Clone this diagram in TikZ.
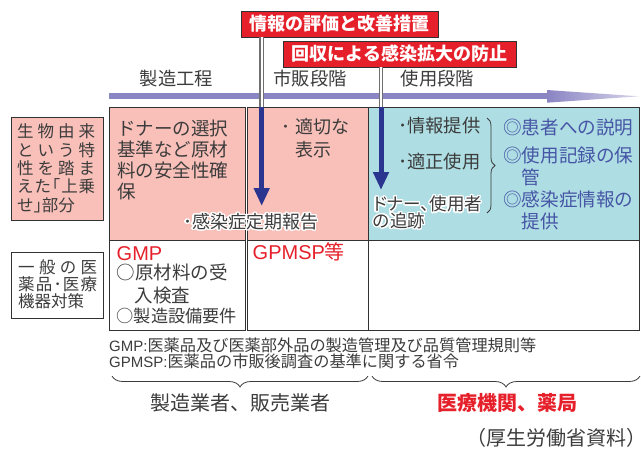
\documentclass[tikz,border=0pt]{standalone}
\usepackage{fontspec}
\setmainfont{Liberation Sans}
\newfontfamily\jp{Noto Sans CJK JP}
\newfontfamily\jpp[RawFeature=+palt]{Noto Sans CJK JP}
\newfontfamily\lat{Liberation Sans}
\usepackage[copies]{contour}
\contourlength{1.3pt}
\contournumber{24}
\usetikzlibrary{arrows.meta,decorations.pathreplacing}
\definecolor{tred}{RGB}{230,32,42}
\definecolor{tpink}{RGB}{248,192,185}
\definecolor{tcyan}{RGB}{174,222,227}
\definecolor{tnavy}{RGB}{42,53,144}
\definecolor{tpurple}{RGB}{138,133,195}
\definecolor{tblue}{RGB}{70,85,165}
\definecolor{tgray}{RGB}{60,60,60}
\definecolor{tline}{RGB}{50,50,50}
\definecolor{dline}{RGB}{112,112,112}
\newcommand\fsz[1]{\fontsize{#1pt}{#1pt}\selectfont}
\tikzset{
  txt/.style={anchor=base west, inner sep=0pt, text=tgray},
  btxt/.style={txt, text=tblue, font=\jp\fsz{18.6}},
  title/.style={draw=tline, fill=tred, text=white, font=\jp\bfseries\fsz{18}, inner sep=0pt, line width=0.9pt},
  stage/.style={anchor=center, inner sep=0pt, text=tgray, font=\jp\fsz{18.3}},
  lbox/.style={draw=tline, line width=0.9pt, inner sep=0pt},
  grid/.style={draw=tline, line width=1pt},
  dbl/.style={draw=dline, double=white, line width=1.1pt, double distance=2.4pt},
  navyarrow/.style={draw=tnavy, line width=5pt, -{Triangle[width=15pt,length=18pt]}},
  bracepath/.style={draw=tgray, line width=0.8pt, decorate},
}
\begin{document}
\begin{tikzpicture}[x=1pt,y=-1pt]
\useasboundingbox (0,0) rectangle (641,448);

% ---- purple timeline arrow
\coordinate (pa0) at (109,96.3);
\coordinate (pa1) at (548,96.3);
\coordinate (pa2) at (639,96.3);
\draw[tpurple, line width=6pt] (pa0) -- (pa1);
\shade[left color=tpurple, middle color=tpurple, right color=tpurple!35!white] (547,90) -- (pa2) -- (547,102.7) -- cycle;

% ---- stage labels
\node[stage] (s1) at (176.5,79) {製造工程};
\node[stage] (s2) at (310,79) {市販段階};
\node[stage] (s3) at (437.5,79) {使用段階};

% ---- table
\fill[tpink] (109,107) rectangle (245,240);
\fill[tpink] (247,107) rectangle (368,240);
\fill[tcyan] (368,107) rectangle (639,240);
\draw[grid] (109,107) rectangle (245,330);
\draw[grid] (109,240) -- (245,240);
\draw[grid] (247,107) rectangle (639,330);
\draw[grid] (368,107) -- (368,330);
\draw[grid] (247,240) -- (639,240);

% ---- left boxes
\node[lbox, fill=tpink, minimum width=92pt, minimum height=103pt] (la) at (57,168.5) {};
\node[lbox, fill=white, minimum width=92pt, minimum height=66pt] (lb) at (57,285) {};
\begin{scope}[every node/.style={txt, font=\jp\fsz{16.5}}]
\node (la1) at (17,137.8) {\hbox to 78pt{生\hfill 物\hfill 由\hfill 来}};
\node (la2) at (17,156.1) {\hbox to 78pt{と\hfill い\hfill う\hfill 特}};
\node (la3) at (17,174.4) {\hbox to 78pt{性\hfill を\hfill 踏\hfill ま}};
\node (la4) at (17,192.7) {\hbox to 78pt{え\hfill た\hfill ｢\hfill 上\hfill 乗}};
\node (la5) at (17,211) {せ｣部分};
\node (lb1) at (18,273.3) {\hbox to 79pt{一\hfill 般\hfill の\hfill 医}};
\node (lb2) at (18,290.3) {\hbox to 79pt{薬\hfill 品\hfill ･\hfill 医\hfill 療}};
\node (lb3) at (18,307.3) {機器対策};
\end{scope}

% ---- column 1 row 1
\begin{scope}[every node/.style={txt, font=\jp\fsz{18.5}}]
\node (c1a) at (117,135.3) {ドナーの選択};
\node (c1b) at (117,156.5) {基準など原材};
\node (c1c) at (117,177.7) {料の安全性確};
\node (c1d) at (117,198.9) {保};
\end{scope}

% ---- column 2 row 1
\node[txt, font=\jp\fsz{18}] (c2a) at (281,133.5) {･\hspace{5pt}適切な};
\node[txt, font=\jp\fsz{18}] (c2b) at (295,156.1) {表示};

% ---- column 3 row 1
\node[txt, font=\jp\fsz{18.3}] (c3a) at (398,132) {･情報提供};
\node[txt, font=\jp\fsz{18.3}] (c3b) at (398,168) {･適正使用};
\node[txt, font=\jpp\fsz{17.5}] (c3c) at (373,210.7) {\contour{white}{ドナー、使用者}};
\node[txt, font=\jpp\fsz{17.5}] (c3d) at (373,227.4) {\contour{white}{の追跡}};
\coordinate (br1) at (487,118);
\coordinate (br2) at (487,213);
\draw[bracepath, decoration={brace, amplitude=8pt}] (br1) -- (br2);
\node[btxt] (p1) at (503,134.1) {◎患者への説明};
\node[btxt] (p2) at (503,162.1) {◎使用記録の保};
\node[btxt] (p3) at (521.6,184.1) {管};
\node[btxt] (p4) at (503,206.4) {◎感染症情報の};
\node[btxt] (p5) at (521.6,228.8) {提供};

% ---- spanning label
\node[txt, font=\jp\fsz{18}] (kan) at (183,228.5) {\contour{white}{･感染症定期報告}};

% ---- row 2
\node[txt, text=tred, font=\lat\fsz{20}] (gmp) at (116.5,260.2) {GMP};
\node[txt, font=\jp\fsz{18.5}] (g1) at (116.5,279.7) {○原材料の受};
\node[txt, font=\jp\fsz{18.5}] (g2) at (134.5,302) {入検査};
\node[txt, font=\jp\fsz{17.2}] (g3) at (116.5,322.5) {○製造設備要件};
\node[txt, text=tred, font=\lat\fsz{20}] (gpmsp) at (252.5,259.9) {GPMSP{\jp 等}};

% ---- title boxes and vertical connectors
\node[title, minimum width=197pt, minimum height=26pt] (t1) at (339.5,24) {情報の評価と改善措置};
\node[title, minimum width=233pt, minimum height=26pt] (t2) at (399.5,54) {回収による感染拡大の防止};
\coordinate (v1m) at (261.7,107);
\coordinate (v1b) at (261.7,206);
\coordinate (v2m) at (381,107);
\coordinate (v2b) at (381,190);
\draw[dbl] (t1.south -| v1m) -- (v1m);
\draw[dbl] (t2.south -| v2m) -- (v2m);
\draw[navyarrow] (v1m) -- (v1b);
\draw[navyarrow] (v2m) -- (v2b);

% ---- footnotes
\node[txt, font=\jp\fsz{16.2}] (fn1) at (109,351.2) {{\lat\fsz{15}GMP:}医薬品及び医薬部外品の製造管理及び品質管理規則等};
\node[txt, font=\jp\fsz{16.2}] (fn2) at (109,367.5) {{\lat\fsz{15}GPMSP:}医薬品の市販後調査の基準に関する省令};

% ---- bottom braces and labels
\coordinate (b1a) at (368,376);
\coordinate (b1b) at (112,376);
\coordinate (b2a) at (640,376);
\coordinate (b2b) at (372,376);
\draw[bracepath, decoration={brace, amplitude=11pt}] (b1a) -- (b1b);
\draw[bracepath, decoration={brace, amplitude=11pt}] (b2a) -- (b2b);
\node[anchor=center, inner sep=0pt, text=tgray, font=\jp\fsz{20}] (mk) at (240,403) {製造業者、販売業者};
\node[anchor=center, inner sep=0pt, text=tred, font=\jp\bfseries\fsz{20}] (iryo) at (507.5,403) {医療機関、薬局};
\node[txt, font=\jp\fsz{20}] (src) at (466,445.6) {（厚生労働省資料）};
\end{tikzpicture}
\end{document}
